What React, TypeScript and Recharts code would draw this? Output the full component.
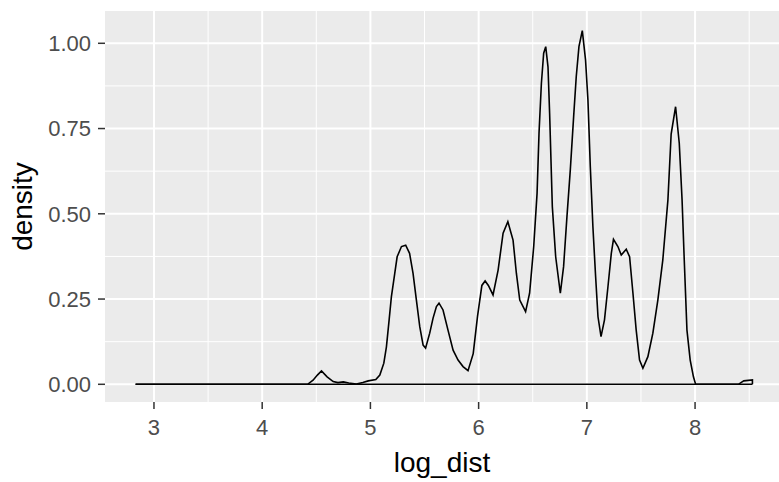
import React from "react";
import { LineChart, Line, XAxis, YAxis, CartesianGrid } from "recharts";

const logDist = [
  2.83, 4.42, 4.47, 4.51, 4.548, 4.6, 4.656, 4.7, 4.75, 4.8, 4.87, 4.93, 4.98, 5.05,
  5.087, 5.124, 5.148, 5.173, 5.194, 5.225, 5.247, 5.287, 5.326, 5.362, 5.394, 5.425,
  5.456, 5.487, 5.51, 5.548, 5.579, 5.61, 5.634, 5.671, 5.717, 5.764, 5.81, 5.856,
  5.902, 5.95, 5.99, 6.03, 6.06, 6.09, 6.133, 6.18, 6.226, 6.27, 6.318, 6.349, 6.38,
  6.434, 6.471, 6.509, 6.54, 6.558, 6.58, 6.601, 6.62, 6.641, 6.656, 6.681, 6.712,
  6.755, 6.785, 6.816, 6.847, 6.878, 6.902, 6.927, 6.958, 6.988, 7.01, 7.032, 7.056,
  7.081, 7.103, 7.131, 7.163, 7.195, 7.226, 7.246, 7.287, 7.318, 7.364, 7.395, 7.426,
  7.456, 7.487, 7.518, 7.564, 7.61, 7.656, 7.702, 7.749, 7.779, 7.82, 7.854, 7.88,
  7.9, 7.925, 7.955, 7.985, 8.005, 8.4, 8.45, 8.53, 8.53,
];

const density = [
  0, 0, 0.012, 0.027, 0.039, 0.022, 0.008, 0.005, 0.007, 0.004, 0.001, 0.005, 0.01, 0.014,
  0.027, 0.062, 0.11, 0.189, 0.257, 0.325, 0.374, 0.404, 0.408, 0.384, 0.325, 0.247,
  0.169, 0.115, 0.106, 0.15, 0.194, 0.228, 0.238, 0.218, 0.159, 0.1, 0.071, 0.052,
  0.04, 0.09, 0.2, 0.29, 0.303, 0.29, 0.262, 0.335, 0.443, 0.477, 0.423, 0.325, 0.247,
  0.213, 0.267, 0.404, 0.56, 0.736, 0.883, 0.971, 0.99, 0.931, 0.795, 0.521, 0.374,
  0.267, 0.345, 0.491, 0.628, 0.785, 0.902, 0.99, 1.037, 0.951, 0.834, 0.638, 0.462,
  0.316, 0.198, 0.14, 0.189, 0.286, 0.384, 0.425, 0.404, 0.379, 0.396, 0.374, 0.267,
  0.159, 0.071, 0.047, 0.081, 0.15, 0.247, 0.365, 0.54, 0.734, 0.814, 0.707, 0.54,
  0.365, 0.159, 0.071, 0.022, 0, 0, 0.01, 0.013, 0,
];

const xTicks = [3, 4, 5, 6, 7, 8];
const xMinor = [3.5, 4.5, 5.5, 6.5, 7.5, 8.5];
const yTicks = [0, 0.25, 0.5, 0.75, 1.0];
const yMinor = [0.125, 0.375, 0.625, 0.875];

const curveData = logDist.map((x, i) => ({ x, y: density[i] }));
const baselineData = [
  { x: logDist[0], y: 0 },
  { x: logDist[logDist.length - 1], y: 0 },
];

const FONT = "'Liberation Sans', Arial, sans-serif";

export default function App() {
  return (
    <div style={{ position: "absolute", left: 0, top: 0, background: "#fff" }}>
      <style>{"body{margin:0;}"}</style>
      <LineChart
        width={779}
        height={482}
        margin={{ top: 11, right: 0, bottom: 0, left: 0 }}
        style={{ fontFamily: FONT }}
      >
        <CartesianGrid
          fill="#EBEBEB"
          stroke="#FFFFFF"
          strokeWidth={1}
          horizontalValues={yMinor}
          verticalValues={xMinor}
        />
        <CartesianGrid
          stroke="#FFFFFF"
          strokeWidth={2}
          horizontalValues={yTicks}
          verticalValues={xTicks}
        />
        <XAxis
          type="number"
          dataKey="x"
          domain={[2.5475, 8.7756]}
          ticks={xTicks}
          allowDataOverflow
          height={80}
          axisLine={false}
          tickSize={7}
          tickMargin={10}
          tickLine={{ stroke: "#333333", strokeWidth: 1.5 }}
          tick={{ fill: "#4D4D4D", fontSize: 22, fontFamily: FONT }}
          tickFormatter={(v: number) => String(v)}
          label={{
            value: "log_dist",
            position: "insideBottom",
            offset: 10,
            style: { fill: "#000", fontSize: 28, fontFamily: FONT },
          }}
        />
        <YAxis
          type="number"
          dataKey="y"
          domain={[-0.0519, 1.0947]}
          ticks={yTicks}
          allowDataOverflow
          width={105}
          axisLine={false}
          tickSize={7}
          tickMargin={7}
          tickLine={{ stroke: "#333333", strokeWidth: 1.5 }}
          tick={{ fill: "#4D4D4D", fontSize: 22, fontFamily: FONT }}
          tickFormatter={(v: number) => v.toFixed(2)}
          label={{
            value: "density",
            angle: -90,
            position: "insideLeft",
            offset: 22,
            style: { fill: "#000", fontSize: 28, fontFamily: FONT, textAnchor: "middle" },
          }}
        />
        <Line
          data={baselineData}
          dataKey="y"
          type="linear"
          stroke="#000"
          strokeWidth={1.6}
          dot={false}
          activeDot={false}
          isAnimationActive={false}
        />
        <Line
          data={curveData}
          dataKey="y"
          type="linear"
          stroke="#000"
          strokeWidth={1.6}
          dot={false}
          activeDot={false}
          isAnimationActive={false}
        />
      </LineChart>
    </div>
  );
}
